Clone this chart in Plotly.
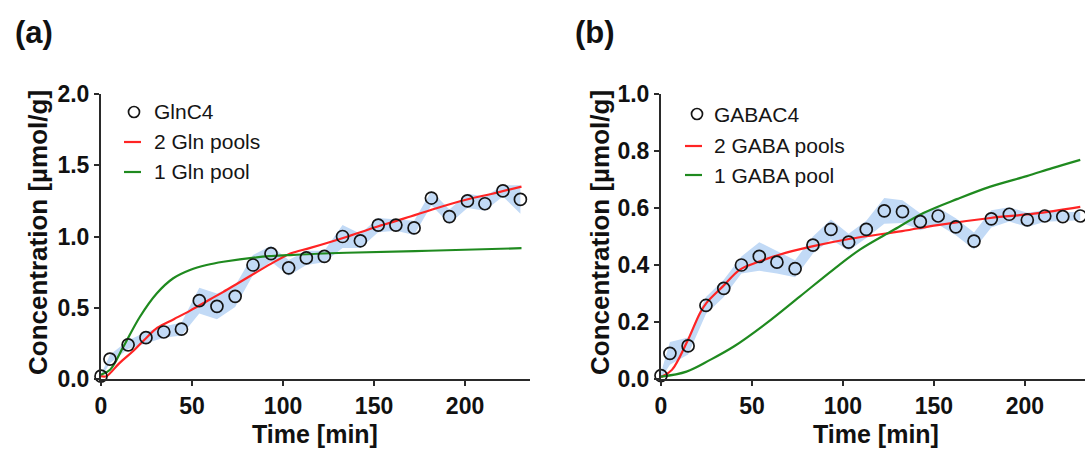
import plotly.graph_objects as go

# ---------------- data ----------------
time_min = [0, 4.9, 14.9, 24.7, 34.5, 44.2, 54.0, 63.7, 73.7, 83.5, 93.4, 103.1,
            112.8, 122.7, 132.7, 142.5, 152.3, 162.0, 172.0, 181.5, 191.4, 201.3,
            210.9, 220.8, 230.4]

gln_c4 = [0.02, 0.14, 0.24, 0.29, 0.33, 0.35, 0.55, 0.51, 0.58, 0.80, 0.88, 0.78,
          0.85, 0.86, 1.00, 0.97, 1.08, 1.08, 1.06, 1.27, 1.14, 1.25, 1.23, 1.32, 1.26]
gln_sd = [0.01, 0.03, 0.03, 0.04, 0.04, 0.045, 0.09, 0.09, 0.075, 0.07, 0.055, 0.055,
          0.05, 0.04, 0.08, 0.05, 0.05, 0.04, 0.05, 0.05, 0.05, 0.05, 0.05, 0.04, 0.10]

gaba_c4 = [0.012, 0.09, 0.116, 0.258, 0.318, 0.40, 0.43, 0.41, 0.387, 0.47, 0.525, 0.48,
           0.525, 0.59, 0.587, 0.552, 0.572, 0.534, 0.484, 0.562, 0.578, 0.558, 0.572,
           0.57, 0.572]
gaba_sd = [0.01, 0.04, 0.03, 0.03, 0.03, 0.03, 0.05, 0.04, 0.03, 0.03, 0.035, 0.03,
           0.03, 0.045, 0.04, 0.03, 0.03, 0.03, 0.03, 0.03, 0.025, 0.025, 0.02, 0.015, 0.015]

gln2_t = [0, 3, 10, 18, 25, 31, 40, 49, 60, 67, 75, 85.5, 95, 104, 115, 133, 152, 170,
          182, 201, 215, 231]
gln2_v = [0.02, 0.02, 0.11, 0.20, 0.29, 0.36, 0.42, 0.48, 0.56, 0.61, 0.67, 0.75, 0.82,
          0.88, 0.92, 0.99, 1.07, 1.14, 1.19, 1.26, 1.30, 1.35]

gln1_t = [0, 5, 12.3, 21.4, 30.6, 39.7, 48.9, 58, 67.2, 85.5, 104, 135, 180, 231]
gln1_v = [0.03, 0.065, 0.227, 0.437, 0.60, 0.707, 0.765, 0.80, 0.823, 0.854, 0.87,
          0.886, 0.90, 0.918]

gaba2_t = [0, 1, 6, 14, 21.4, 25, 34, 43.4, 54.4, 65.4, 83.7, 104, 132.5, 152, 181,
           205, 230.4]
gaba2_v = [0.008, 0.01, 0.032, 0.126, 0.231, 0.267, 0.325, 0.384, 0.413, 0.437, 0.466,
           0.492, 0.519, 0.54, 0.565, 0.58, 0.604]

gaba1_t = [0, 14, 27, 40, 58, 76.4, 94.7, 109.3, 127, 144.5, 163, 181, 201, 215, 230.4]
gaba1_v = [0.008, 0.026, 0.067, 0.114, 0.196, 0.29, 0.384, 0.454, 0.52, 0.583, 0.632,
           0.675, 0.712, 0.74, 0.769]

x_ticks = [0, 50, 100, 150, 200]
y_ticks_a = [0, 0.5, 1.0, 1.5, 2.0]
y_ticks_b = [0, 0.2, 0.4, 0.6, 0.8, 1.0]

legend_a = ["GlnC4", "2 Gln pools", "1 Gln pool"]
legend_b = ["GABAC4", "2 GABA pools", "1 GABA pool"]
panel_labels = ["(a)", "(b)"]

# ---------------- style ----------------
W, H = 1085, 452
FONT = "Liberation Sans, Arial, sans-serif"
RED = "#ff2424"
GREEN = "#1f8a1f"
BAND = "rgb(194,218,246)"
AX = "#2a2a2a"


def px(x):
    return x / W


def py(y):
    return 1 - y / H


fig = go.Figure()


def add_panel(xa, ya, t, y, sd, t2, v2, t1, v1):
    upper = [a + b for a, b in zip(y, sd)]
    lower = [a - b for a, b in zip(y, sd)]
    fig.add_trace(go.Scatter(x=t + t[::-1], y=upper + lower[::-1], fill="toself",
                             fillcolor=BAND, line=dict(width=0), mode="lines",
                             xaxis=xa, yaxis=ya, showlegend=False, hoverinfo="skip"))
    fig.add_trace(go.Scatter(x=t2, y=v2, mode="lines", line=dict(color=RED, width=2.2, shape="spline"),
                             xaxis=xa, yaxis=ya, showlegend=False))
    fig.add_trace(go.Scatter(x=t1, y=v1, mode="lines", line=dict(color=GREEN, width=2.2, shape="spline"),
                             xaxis=xa, yaxis=ya, showlegend=False))
    fig.add_trace(go.Scatter(x=t, y=y, mode="markers",
                             marker=dict(symbol="circle", size=12, color="rgba(0,0,0,0)",
                                         line=dict(width=1.7, color="#151515")),
                             xaxis=xa, yaxis=ya, showlegend=False, cliponaxis=False))


add_panel("x", "y", time_min, gln_c4, gln_sd, gln2_t, gln2_v, gln1_t, gln1_v)
add_panel("x2", "y2", time_min, gaba_c4, gaba_sd, gaba2_t, gaba2_v, gaba1_t, gaba1_v)

tickfont = dict(family=FONT, size=23, color="#111", weight="bold")
common_x = dict(showline=True, linewidth=2, linecolor=AX, ticks="outside", ticklen=5,
                tickwidth=2, tickcolor=AX, tickvals=x_ticks, tickfont=tickfont,
                showgrid=False, zeroline=False, ticklabelstandoff=0, automargin=False)
common_y = dict(showline=True, linewidth=2, linecolor=AX, ticks="outside", ticklen=5,
                tickwidth=2, tickcolor=AX, tickfont=tickfont, tickformat=".1f",
                showgrid=False, zeroline=False, domain=[py(379), py(94)], automargin=False)

fig.update_layout(
    width=W, height=H, margin=dict(l=0, r=0, t=0, b=0),
    paper_bgcolor="white", plot_bgcolor="white", showlegend=False,
    xaxis=dict(domain=[px(101), px(529.5)], range=[0, 235.4], anchor="y", **common_x),
    yaxis=dict(range=[0, 2.0], tickvals=y_ticks_a, anchor="x", **common_y),
    xaxis2=dict(domain=[px(661), 1.0], range=[0, 233], anchor="y2", **common_x),
    yaxis2=dict(range=[0, 1.0], tickvals=y_ticks_b, anchor="x2", **common_y),
)

ann = []
# panel labels
for lab, x in zip(panel_labels, [34, 595]):
    ann.append(dict(text=lab, x=px(x), y=py(33), xref="paper", yref="paper",
                    showarrow=False, xanchor="center", yanchor="middle",
                    font=dict(family=FONT, size=31, color="#111", weight="bold")))
# axis titles
for x in [315, 876]:
    ann.append(dict(text="Time [min]", x=px(x), y=py(434), xref="paper", yref="paper",
                    showarrow=False, xanchor="center", yanchor="middle",
                    font=dict(family=FONT, size=25, color="#111", weight="bold")))
for x in [38, 600]:
    ann.append(dict(text="Concentration [µmol/g]", x=px(x), y=py(233), xref="paper",
                    yref="paper", showarrow=False, xanchor="center", yanchor="middle",
                    textangle=-90,
                    font=dict(family=FONT, size=26, color="#111", weight="bold")))

shapes = []
# manual legends
for labels, cx, lx0, lx1, tx, rows in [
        (legend_a, 134, 124, 141, 152, [112, 142, 172]),
        (legend_b, 697, 685, 702, 711.5, [114, 146, 175])]:
    r = 5.5
    shapes.append(dict(type="circle", xref="paper", yref="paper",
                       x0=px(cx - r), x1=px(cx + r), y0=py(rows[0] + r), y1=py(rows[0] - r),
                       line=dict(color="#151515", width=1.7)))
    shapes.append(dict(type="line", xref="paper", yref="paper", x0=px(lx0), x1=px(lx1),
                       y0=py(rows[1]), y1=py(rows[1]), line=dict(color=RED, width=2.2)))
    shapes.append(dict(type="line", xref="paper", yref="paper", x0=px(lx0), x1=px(lx1),
                       y0=py(rows[2]), y1=py(rows[2]), line=dict(color=GREEN, width=2.2)))
    for lab, yy in zip(labels, rows):
        ann.append(dict(text=lab, x=px(tx), y=py(yy), xref="paper", yref="paper",
                        showarrow=False, xanchor="left", yanchor="middle",
                        font=dict(family=FONT, size=21, color="#151515")))

fig.update_layout(annotations=ann, shapes=shapes)
fig.write_html("out.html", config={"displayModeBar": False},
               post_script="document.body.style.margin='0';document.body.style.overflow='hidden';")
